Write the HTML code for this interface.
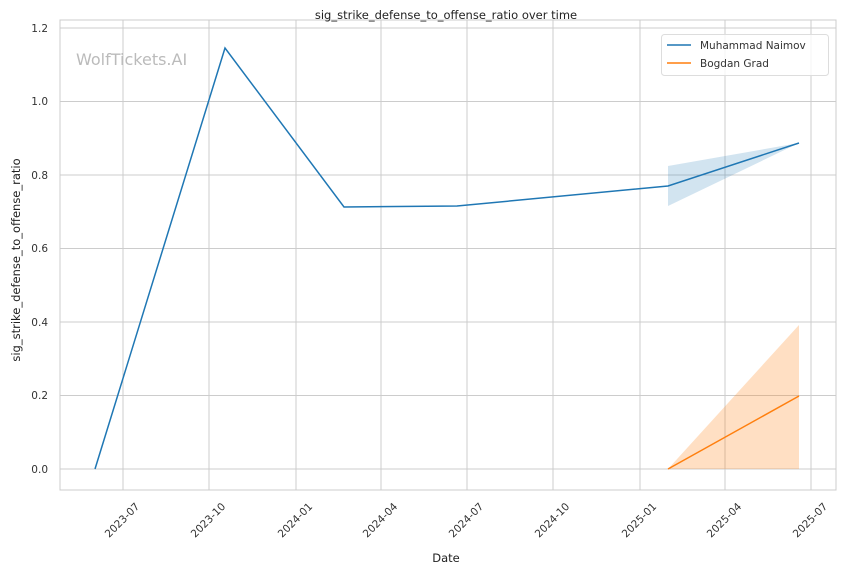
<!DOCTYPE html>
<html><head><style>body{margin:0;background:#fff}</style></head><body>
<svg width="844" height="575" xmlns="http://www.w3.org/2000/svg" font-family="DejaVu Sans, Liberation Sans, sans-serif">
<rect width="844" height="575" fill="#fff"/>
<g stroke="#cccccc" stroke-width="1">
<line x1="60" x2="836" y1="28" y2="28"/><line x1="60" x2="836" y1="101.5" y2="101.5"/><line x1="60" x2="836" y1="175" y2="175"/><line x1="60" x2="836" y1="248.5" y2="248.5"/><line x1="60" x2="836" y1="322" y2="322"/><line x1="60" x2="836" y1="395.5" y2="395.5"/><line x1="60" x2="836" y1="469" y2="469"/>
<line x1="123" x2="123" y1="20" y2="490"/><line x1="209" x2="209" y1="20" y2="490"/><line x1="296" x2="296" y1="20" y2="490"/><line x1="381" x2="381" y1="20" y2="490"/><line x1="467" x2="467" y1="20" y2="490"/><line x1="553" x2="553" y1="20" y2="490"/><line x1="640" x2="640" y1="20" y2="490"/><line x1="725" x2="725" y1="20" y2="490"/><line x1="811" x2="811" y1="20" y2="490"/>
</g>
<rect x="60" y="20" width="776" height="470" fill="none" stroke="#cccccc"/>
<text x="76" y="65" font-size="16" fill="#bbbbbb">WolfTickets.AI</text>
<polygon points="668,166 799,143 668,206" fill="#1f77b4" fill-opacity="0.2"/>
<polygon points="668,469 799,325 799,469" fill="#ff7f0e" fill-opacity="0.25"/>
<polyline points="95,469 225,48 344,207 457,206 668,186 799,143" fill="none" stroke="#1f77b4" stroke-width="1.5"/>
<polyline points="668,469 799,396" fill="none" stroke="#ff7f0e" stroke-width="1.5"/>
<g font-size="10.5" fill="#333" text-anchor="end">
<text x="48" y="32">1.2</text><text x="48" y="105">1.0</text><text x="48" y="179">0.8</text><text x="48" y="252">0.6</text><text x="48" y="326">0.4</text><text x="48" y="399">0.2</text><text x="48" y="473">0.0</text>
</g>
<g font-size="10.5" fill="#333" text-anchor="middle">
<text transform="translate(122,520) rotate(-45)" dy="0.35em">2023-07</text>
<text transform="translate(208,520) rotate(-45)" dy="0.35em">2023-10</text>
<text transform="translate(295,520) rotate(-45)" dy="0.35em">2024-01</text>
<text transform="translate(380,520) rotate(-45)" dy="0.35em">2024-04</text>
<text transform="translate(466,520) rotate(-45)" dy="0.35em">2024-07</text>
<text transform="translate(552,520) rotate(-45)" dy="0.35em">2024-10</text>
<text transform="translate(639,520) rotate(-45)" dy="0.35em">2025-01</text>
<text transform="translate(724,520) rotate(-45)" dy="0.35em">2025-04</text>
<text transform="translate(810,520) rotate(-45)" dy="0.35em">2025-07</text>
</g>
<text x="446" y="562" font-size="11.5" fill="#222" text-anchor="middle">Date</text>
<text transform="translate(20,260) rotate(-90)" font-size="11.5" fill="#222" text-anchor="middle">sig_strike_defense_to_offense_ratio</text>
<text x="446" y="19" font-size="11.5" fill="#222" text-anchor="middle">sig_strike_defense_to_offense_ratio over time</text>
<rect x="661.5" y="34.5" width="167" height="41" rx="3" fill="#fff" fill-opacity="0.8" stroke="#dddddd"/>
<line x1="667" x2="691" y1="45" y2="45" stroke="#1f77b4" stroke-width="1.5"/>
<line x1="667" x2="691" y1="63" y2="63" stroke="#ff7f0e" stroke-width="1.5"/>
<text x="700" y="49" font-size="10.5" fill="#333">Muhammad Naimov</text>
<text x="700" y="67" font-size="10.5" fill="#333">Bogdan Grad</text>
</svg>
</body></html>
